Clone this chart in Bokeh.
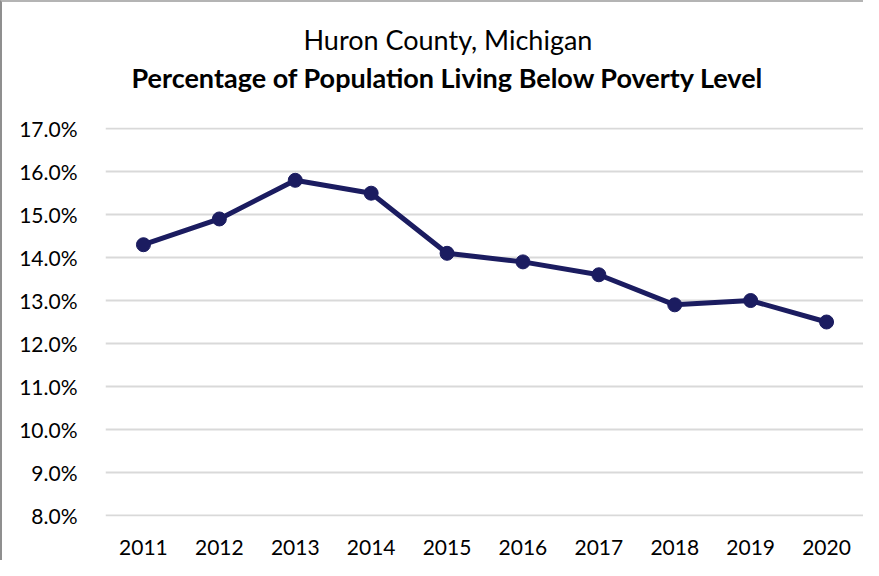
from bokeh.plotting import figure
from bokeh.models import Range1d, NumeralTickFormatter, Title, FactorRange
from bokeh.embed import file_html
from bokeh.resources import INLINE

years = ["2011", "2012", "2013", "2014", "2015", "2016", "2017", "2018", "2019", "2020"]
poverty = [0.143, 0.149, 0.158, 0.155, 0.141, 0.139, 0.136, 0.129, 0.130, 0.125]
y_ticks = [0.08, 0.09, 0.10, 0.11, 0.12, 0.13, 0.14, 0.15, 0.16, 0.17]
title_1 = "Huron County, Michigan"
title_2 = "Percentage of Population Living Below Poverty Level"

FONT = "Lato"
NAVY = "#1b1c60"

W, H = 863, 560
p = figure(width=W, height=H, output_backend="svg", toolbar_location=None,
           x_range=FactorRange(*years), y_range=Range1d(0.0797, 0.1703),
           min_border_left=103, min_border_right=1, min_border_top=125, min_border_bottom=46)
p.styles = {"border-top": "2px solid #b4b4b4", "border-left": "2px solid #8f8f8f",
            "box-sizing": "border-box"}
p.outline_line_color = None
p.background_fill_color = "white"
p.border_fill_color = "white"

p.xgrid.grid_line_color = None
p.ygrid.grid_line_color = "#d9d9d9"
p.ygrid.grid_line_width = 2

p.yaxis.ticker = y_ticks
p.yaxis.formatter = NumeralTickFormatter(format="0.0%")
for ax in (p.xaxis, p.yaxis):
    ax.axis_line_color = None
    ax.major_tick_line_color = None
    ax.minor_tick_line_color = None
    ax.major_label_text_font = FONT
    ax.major_label_text_font_size = "21px"
    ax.major_label_text_color = "#000000"
p.yaxis.major_label_standoff = 22
p.xaxis.major_label_standoff = 17

p.line(years, poverty, line_color=NAVY, line_width=5)
p.scatter(years, poverty, size=14, fill_color=NAVY, line_color=NAVY)

p.title.text = title_1
p.title.text_font = FONT
p.title.text_font_size = "27px"
p.title.text_font_style = "normal"
p.title.text_color = "#000000"
p.title.align = "left"
p.title.offset = 198
p.title.standoff = -61
p.add_layout(Title(text=title_2, text_font=FONT, text_font_size="27px",
                   text_font_style="bold", text_color="#000000", align="left",
                   offset=26, standoff=67), "above")

open("out.html", "w").write(file_html(p, INLINE))
